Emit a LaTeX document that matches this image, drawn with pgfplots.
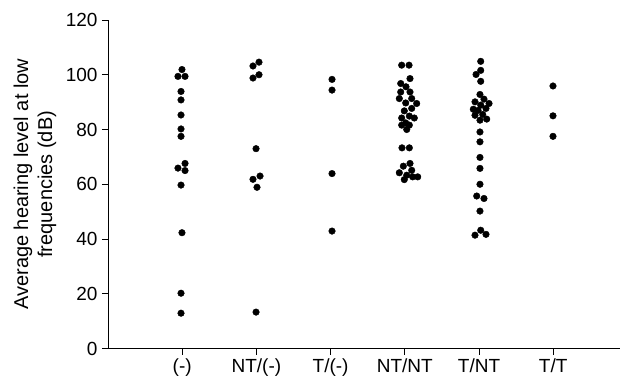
\documentclass[border=0pt]{standalone}
\usepackage{fontspec}
\setmainfont{Liberation Sans}
\usepackage{pgfplots}
\pgfplotsset{compat=1.18}
\pgfplotsset{dot/.style={only marks, mark=*, mark size=3.3pt, draw=black, fill=black, mark options={solid, fill=black, draw=black}}}
\begin{document}
\begin{tikzpicture}
\begin{axis}[
  anchor=south west, at={(0,0)},
  scale only axis, width=512pt, height=328.5pt,
  xmin=0, xmax=6.9, ymin=0, ymax=120,
  axis x line=bottom, axis y line=left,
  axis line style={-, line width=0.8pt, black},
  tick style={line width=0.8pt, black},
  tick align=outside, major tick length=6pt,
  xtick={1,2,3,4,5,6},
  xticklabels={(-),NT/(-),T/(-),NT/NT,T/NT,T/T},
  ytick={0,20,40,60,80,100,120},
  /pgf/number format/assume math mode=true,
  tick label style={font=\fontsize{19}{23}\selectfont},
  xticklabel style={yshift=-1pt},
  yticklabel style={xshift=-1pt},
  ylabel={Average hearing level at low\\frequencies (dB)},
  every axis y label/.style={at={(axis description cs:-0.1426,0.5)}, rotate=90, anchor=center, align=center, font=\fontsize{20}{24}\selectfont},
]
% (-)
\addplot[dot] coordinates {
(0.997,101.9) (0.943,99.4) (1.038,99.4) (0.984,93.9) (0.984,90.8) (0.984,85.3)
(0.984,80.2) (0.984,77.5) (1.038,67.6) (0.943,65.9) (1.038,65.0) (0.984,59.7)
(0.997,42.3) (0.984,20.2) (0.984,12.9)
};
% NT/(-)
\addplot[dot] coordinates {
(2.035,104.6) (1.954,103.2) (2.035,100.0) (1.954,98.8) (1.995,73.0)
(2.049,63.0) (1.954,61.8) (2.008,58.9) (1.995,13.3)
};
% T/(-)
\addplot[dot] coordinates {
(3.019,98.3) (3.019,94.4) (3.019,63.9) (3.019,42.9)
};
% NT/NT
\addplot[dot] coordinates {
(3.958,103.5) (4.057,103.5) (4.070,98.6) (3.945,96.8) (4.016,95.6)
(3.945,93.7) (4.070,93.7) (3.926,91.3) (4.093,91.3) (4.012,89.7)
(4.160,89.5) (4.093,87.7) (3.993,86.8) (4.061,84.9) (3.958,84.2)
(4.128,84.2) (4.012,82.4) (3.958,81.6) (4.061,81.6) (4.026,80.0)
(3.962,73.3) (4.061,73.3) (4.070,67.6) (3.980,66.6) (4.093,65.1)
(3.926,64.2) (4.026,63.3) (4.174,62.7) (4.106,62.7) (3.993,61.7)
};
% T/NT
\addplot[dot] coordinates {
(5.023,104.9) (5.023,101.6) (4.960,100.1) (5.023,97.6) (5.013,92.8)
(5.067,91.1) (4.946,90.1) (5.135,89.5) (5.023,88.9) (4.923,87.4)
(4.987,87.0) (5.094,87.7) (5.050,85.5) (4.946,85.2) (5.013,83.4)
(5.104,83.8) (5.013,79.1) (5.013,75.5) (5.013,69.8) (5.013,65.8)
(5.013,60.0) (4.969,55.7) (5.067,54.8) (5.013,50.2) (5.023,43.2)
(4.946,41.4) (5.094,41.7)
};
% T/T
\addplot[dot] coordinates {
(5.997,95.9) (5.997,85.0) (5.997,77.5)
};
\end{axis}
\pgfresetboundingbox
\path[use as bounding box] (-108pt,-34.5pt) rectangle (512pt,348.5pt);
\end{tikzpicture}
\end{document}
